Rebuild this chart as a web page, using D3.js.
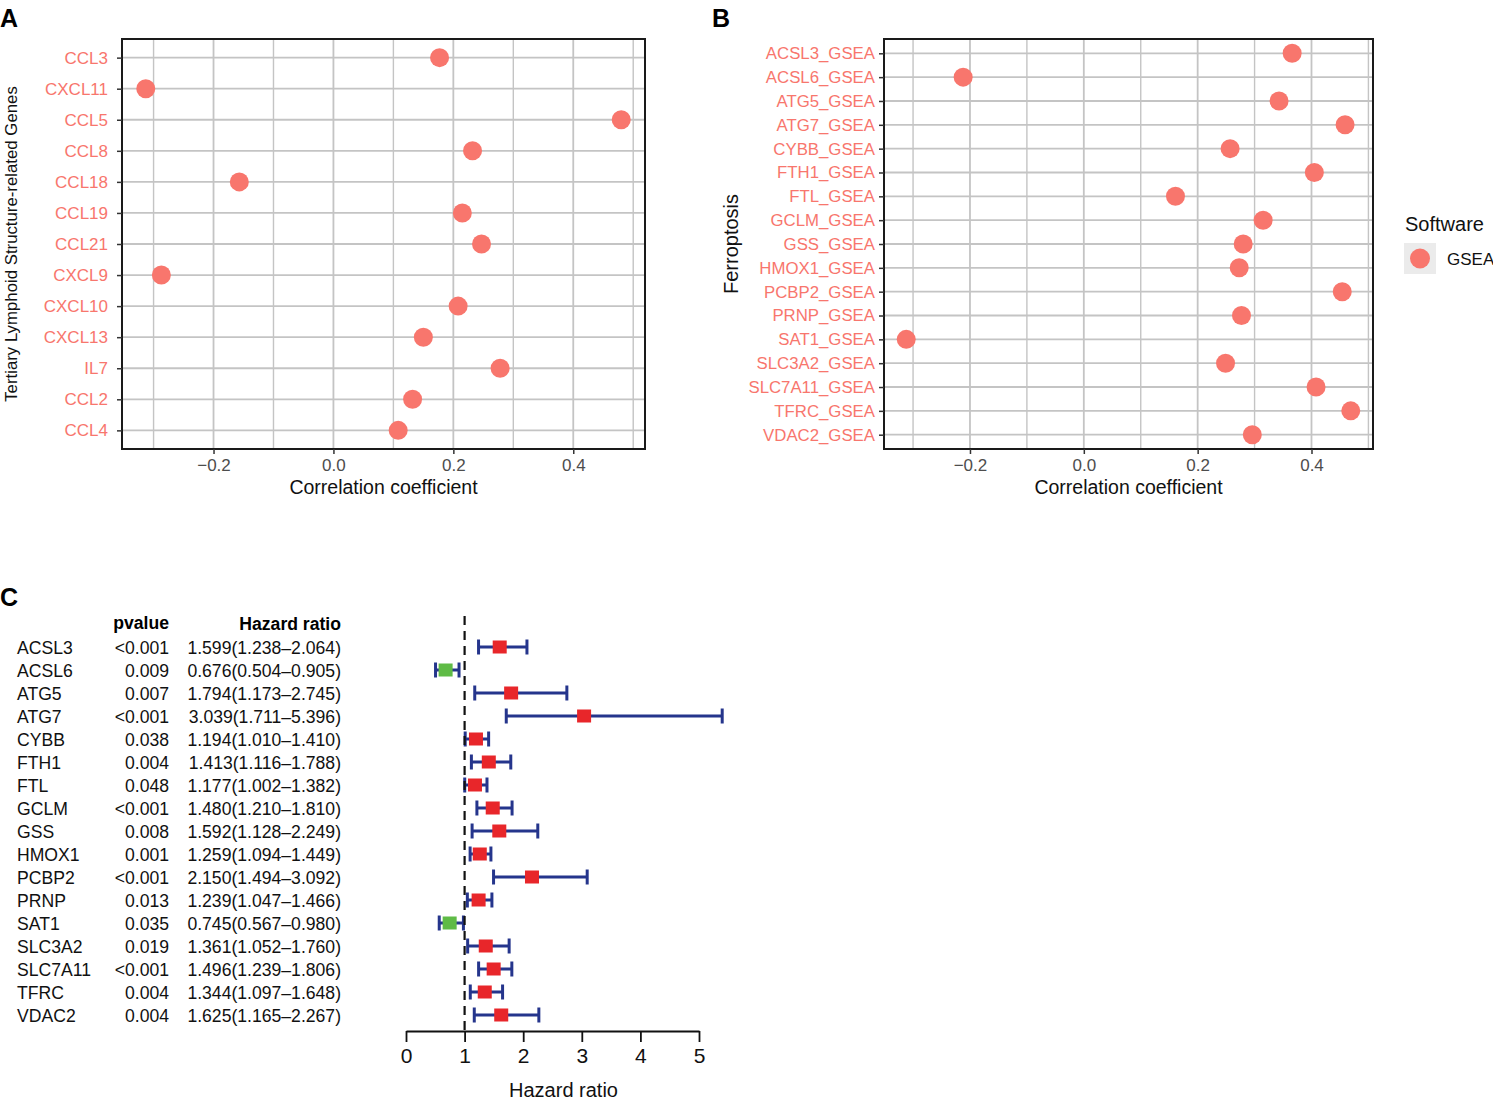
<!DOCTYPE html>
<html>
<head>
<meta charset="utf-8">
<script src="https://cdn.jsdelivr.net/npm/d3@7"></script>
<style>
  body { margin: 0; background: #fff; }
  svg { font-family: "Liberation Sans", Arial, sans-serif; }
</style>
</head>
<body>
<div id="chart"></div>
<script>
// panel A data
const tlsGenes = ["CCL3","CXCL11","CCL5","CCL8","CCL18","CCL19","CCL21","CXCL9","CXCL10","CXCL13","IL7","CCL2","CCL4"];
const tlsCorr = [0.177,-0.313,0.480,0.232,-0.157,0.215,0.247,-0.287,0.208,0.150,0.278,0.132,0.108];

// panel B data
const ferroGenes = ["ACSL3_GSEA","ACSL6_GSEA","ATG5_GSEA","ATG7_GSEA","CYBB_GSEA","FTH1_GSEA","FTL_GSEA","GCLM_GSEA","GSS_GSEA","HMOX1_GSEA","PCBP2_GSEA","PRNP_GSEA","SAT1_GSEA","SLC3A2_GSEA","SLC7A11_GSEA","TFRC_GSEA","VDAC2_GSEA"];
const ferroCorr = [0.366,-0.212,0.343,0.459,0.257,0.405,0.161,0.315,0.280,0.273,0.454,0.277,-0.312,0.249,0.408,0.469,0.296];

// panel C data
const coxGenes = ["ACSL3","ACSL6","ATG5","ATG7","CYBB","FTH1","FTL","GCLM","GSS","HMOX1","PCBP2","PRNP","SAT1","SLC3A2","SLC7A11","TFRC","VDAC2"];
const coxP = ["<0.001","0.009","0.007","<0.001","0.038","0.004","0.048","<0.001","0.008","0.001","<0.001","0.013","0.035","0.019","<0.001","0.004","0.004"];
const coxHR = [1.599,0.676,1.794,3.039,1.194,1.413,1.177,1.480,1.592,1.259,2.150,1.239,0.745,1.361,1.496,1.344,1.625];
const coxLow = [1.238,0.504,1.173,1.711,1.010,1.116,1.002,1.210,1.128,1.094,1.494,1.047,0.567,1.052,1.239,1.097,1.165];
const coxHigh = [2.064,0.905,2.745,5.396,1.410,1.788,1.382,1.810,2.249,1.449,3.092,1.466,0.980,1.760,1.806,1.648,2.267];
const hrTicks = [0,1,2,3,4,5];

const pink = "#F8766D";
const gridCol = "#c4c4c4";

const svg = d3.select("#chart").append("svg")
  .attr("width", 1493)
  .attr("height", 1103);

/* panel letters */
[["A",0,27],["B",712,27],["C",0,606]].forEach(([t,x,y]) => {
  svg.append("text").attr("x", x).attr("y", y)
    .attr("font-size", 25).attr("font-weight", "bold").text(t);
});

/* dot plot used for A and B */
function dotPanel(cfg) {
  const g = svg.append("g");
  const ext = d3.extent(cfg.values);
  const pad = (ext[1] - ext[0]) * 0.05;
  const x = d3.scaleLinear().domain([ext[0] - pad, ext[1] + pad]).range([cfg.left, cfg.right]);
  const y = d3.scalePoint().domain(cfg.genes).range([cfg.top, cfg.bottom]).padding(0.6);

  // vertical grid, major + minor
  const gridVals = d3.range(-3, 6).map(d => d / 10).filter(v => v >= x.domain()[0] && v <= x.domain()[1]);
  g.selectAll(".vg").data(gridVals).join("line")
    .attr("x1", d => x(d)).attr("x2", d => x(d))
    .attr("y1", cfg.top).attr("y2", cfg.bottom)
    .attr("stroke", gridCol).attr("stroke-width", d => Math.abs(Math.round(d * 10)) % 2 === 0 ? 1.8 : 1.4);
  g.selectAll(".hg").data(cfg.genes).join("line")
    .attr("x1", cfg.left).attr("x2", cfg.right)
    .attr("y1", d => y(d)).attr("y2", d => y(d))
    .attr("stroke", gridCol).attr("stroke-width", 1.8);

  // points
  g.selectAll(".pt").data(cfg.genes).join("circle")
    .attr("cx", (d, i) => x(cfg.values[i]))
    .attr("cy", d => y(d))
    .attr("r", 9.5)
    .attr("fill", pink);

  // border
  g.append("rect")
    .attr("x", cfg.left).attr("y", cfg.top)
    .attr("width", cfg.right - cfg.left).attr("height", cfg.bottom - cfg.top)
    .attr("fill", "none").attr("stroke", "#1a1a1a").attr("stroke-width", 2);

  // axes
  const xAxis = g.append("g")
    .attr("transform", `translate(0,${cfg.bottom})`)
    .call(d3.axisBottom(x).tickValues([-0.2, 0, 0.2, 0.4]).tickFormat(d3.format(".1f")).tickSize(5).tickPadding(5));
  xAxis.select(".domain").remove();
  xAxis.selectAll(".tick line").attr("stroke", "#333").attr("stroke-width", 1.5);
  xAxis.selectAll(".tick text").attr("fill", "#4d4d4d").attr("font-size", 17)
    .text(d => d < 0 ? "\u2212" + d3.format(".1f")(-d) : d3.format(".1f")(d));

  const yAxis = g.append("g")
    .attr("transform", `translate(${cfg.left},0)`)
    .call(d3.axisLeft(y).tickSize(5).tickPadding(cfg.labelPad));
  yAxis.select(".domain").remove();
  yAxis.selectAll(".tick line").attr("stroke", "#333").attr("stroke-width", 1.5);
  yAxis.selectAll(".tick text").attr("fill", pink).attr("font-size", cfg.labelSize);

  g.append("text")
    .attr("x", (cfg.left + cfg.right) / 2).attr("y", cfg.bottom + 45)
    .attr("text-anchor", "middle").attr("font-size", 19.5).attr("fill", "#111")
    .text("Correlation coefficient");

  g.append("text")
    .attr("transform", `translate(${cfg.titleX},${(cfg.top + cfg.bottom) / 2}) rotate(-90)`)
    .attr("text-anchor", "middle").attr("font-size", cfg.titleSize).attr("fill", "#111")
    .text(cfg.yTitle);
}

dotPanel({
  genes: tlsGenes, values: tlsCorr,
  left: 122, right: 645, top: 39, bottom: 449,
  labelSize: 17, labelPad: 9, titleX: 17, titleSize: 16.8,
  yTitle: "Tertiary Lymphoid Structure-related Genes"
});

dotPanel({
  genes: ferroGenes, values: ferroCorr,
  left: 884, right: 1373, top: 39, bottom: 449,
  labelSize: 16.8, labelPad: 4, titleX: 738, titleSize: 20,
  yTitle: "Ferroptosis"
});

/* legend */
svg.append("text").attr("x", 1405).attr("y", 231).attr("font-size", 20).attr("fill", "#111").text("Software");
svg.append("rect").attr("x", 1404).attr("y", 243).attr("width", 32).attr("height", 31).attr("fill", "#ebebeb");
svg.append("circle").attr("cx", 1420).attr("cy", 258.5).attr("r", 10).attr("fill", pink);
svg.append("text").attr("x", 1447).attr("y", 265).attr("font-size", 17).attr("fill", "#111").text("GSEA");

/* panel C: forest plot */
const fc = svg.append("g");
const xHR = d3.scaleLinear().domain([0, 5]).range([406, 699]);
const yC = d3.scalePoint().domain(coxGenes).range([647, 1015]);
const axisY = 1031;
const fmt3 = d3.format(".3f");
const cSize = 17.6;

fc.append("text").attr("x", 169).attr("y", 629).attr("text-anchor", "end")
  .attr("font-size", cSize).attr("font-weight", "bold").text("pvalue");
fc.append("text").attr("x", 341).attr("y", 630).attr("text-anchor", "end")
  .attr("font-size", cSize).attr("font-weight", "bold").text("Hazard ratio");

const rows = fc.selectAll(".row").data(coxGenes).join("g")
  .attr("transform", d => `translate(0,${yC(d)})`);
rows.append("text").attr("x", 17).attr("y", 6.5).attr("font-size", cSize).attr("fill", "#111").text(d => d);
rows.append("text").attr("x", 169).attr("y", 6.5).attr("text-anchor", "end").attr("font-size", cSize).attr("fill", "#111")
  .text((d, i) => coxP[i]);
rows.append("text").attr("x", 341).attr("y", 6.5).attr("text-anchor", "end").attr("font-size", cSize).attr("fill", "#111")
  .text((d, i) => `${fmt3(coxHR[i])}(${fmt3(coxLow[i])}\u2013${fmt3(coxHigh[i])})`);

// reference line at HR = 1
fc.append("line")
  .attr("x1", xHR(1)).attr("x2", xHR(1))
  .attr("y1", 616).attr("y2", axisY)
  .attr("stroke", "#111").attr("stroke-width", 2.2).attr("stroke-dasharray", "9,6");

const navy = "#25358c";
rows.append("line")
  .attr("x1", (d, i) => xHR(coxLow[i])).attr("x2", (d, i) => xHR(coxHigh[i]))
  .attr("y1", 0).attr("y2", 0)
  .attr("stroke", navy).attr("stroke-width", 3);
rows.append("line")
  .attr("x1", (d, i) => xHR(coxLow[i])).attr("x2", (d, i) => xHR(coxLow[i]))
  .attr("y1", -7.5).attr("y2", 7.5).attr("stroke", navy).attr("stroke-width", 3);
rows.append("line")
  .attr("x1", (d, i) => xHR(coxHigh[i])).attr("x2", (d, i) => xHR(coxHigh[i]))
  .attr("y1", -7.5).attr("y2", 7.5).attr("stroke", navy).attr("stroke-width", 3);
rows.append("rect")
  .attr("x", (d, i) => xHR(coxHR[i]) - 7).attr("y", -6.5)
  .attr("width", 14).attr("height", 13)
  .attr("fill", (d, i) => coxHR[i] > 1 ? "#e8262a" : "#5fbb46");

const hrAxis = fc.append("g")
  .attr("transform", `translate(0,${axisY})`)
  .call(d3.axisBottom(xHR).tickValues(hrTicks).tickFormat(d3.format("d")).tickSize(11).tickSizeOuter(0).tickPadding(6));
hrAxis.select(".domain").attr("stroke", "#111").attr("stroke-width", 1.8);
hrAxis.selectAll(".tick line").attr("stroke", "#111").attr("stroke-width", 1.8);
hrAxis.selectAll(".tick text").attr("font-size", 21).attr("fill", "#111");

fc.append("text")
  .attr("x", (xHR.range()[0] + xHR.range()[1]) / 2 + 11).attr("y", 1097)
  .attr("text-anchor", "middle").attr("font-size", 20).attr("fill", "#111")
  .text("Hazard ratio");
</script>
</body>
</html>
